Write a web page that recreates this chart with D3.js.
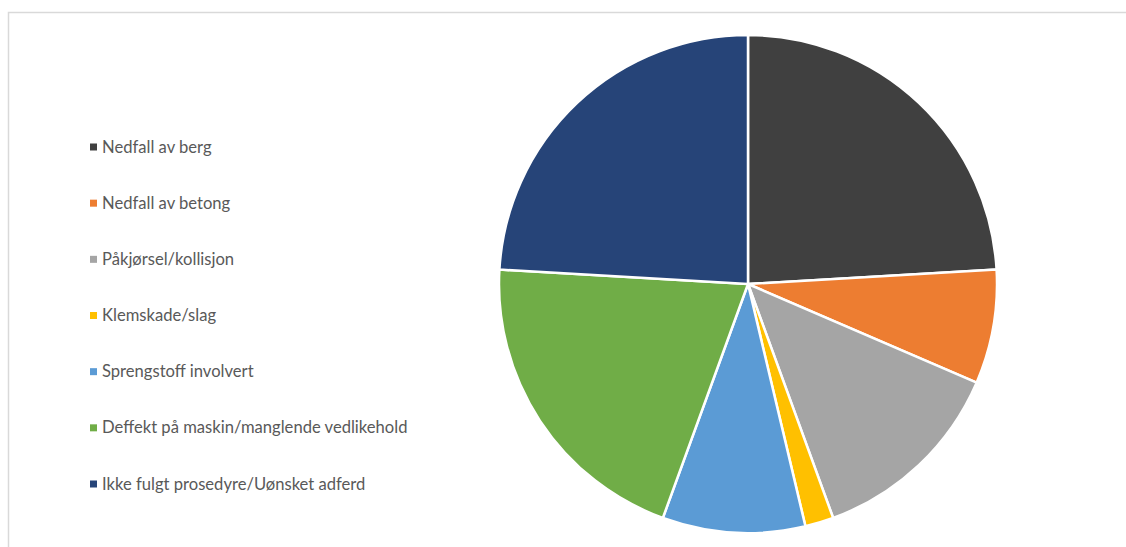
<!DOCTYPE html>
<html><head><meta charset="utf-8">
<script src="https://cdn.jsdelivr.net/npm/d3@7"></script>
<style>body{margin:0;background:#fff}svg{display:block}</style>
</head><body>
<svg id="c" width="1126" height="547"></svg>
<script>
const categories = ["Nedfall av berg","Nedfall av betong","Påkjørsel/kollisjon","Klemskade/slag","Sprengstoff involvert","Deffekt på maskin/manglende vedlikehold","Ikke fulgt prosedyre/Uønsket adferd"];
const values = [13,4,7,1,5,11,13];
const colors = ["#404040","#ED7D31","#A5A5A5","#FFC000","#5B9BD5","#70AD47","#264478"];

const svg = d3.select("#c");
// frame
svg.append("path").attr("d","M8.5,547 L8.5,12.5 L1126,12.5").attr("fill","none").attr("stroke","#d9d9d9").attr("stroke-width",1.5);

const data = categories.map((c,i)=>({c,v:values[i],col:colors[i]}));
const pie = d3.pie().value(d=>d.v).sort(null);
const arc = d3.arc().innerRadius(0).outerRadius(249);
const g = svg.append("g").attr("transform","translate(748,284)");
g.selectAll("path").data(pie(data)).join("path")
 .attr("d",arc).attr("fill",d=>d.data.col).attr("stroke","#fff").attr("stroke-width",2.5).attr("stroke-linejoin","round");

const y = d3.scalePoint().domain(categories).range([147,484]);
const lg = svg.append("g");
const items = lg.selectAll("g").data(data).join("g").attr("transform",d=>`translate(0,${y(d.c)})`);
items.append("rect").attr("x",90).attr("y",-3.5).attr("width",7).attr("height",7).attr("fill",d=>d.col);
items.append("text").attr("x",102).attr("y",5.5).text(d=>d.c)
 .attr("font-family","Lato, 'Open Sans', sans-serif").attr("font-size",16.6).attr("fill","#595959");
</script>
</body></html>
